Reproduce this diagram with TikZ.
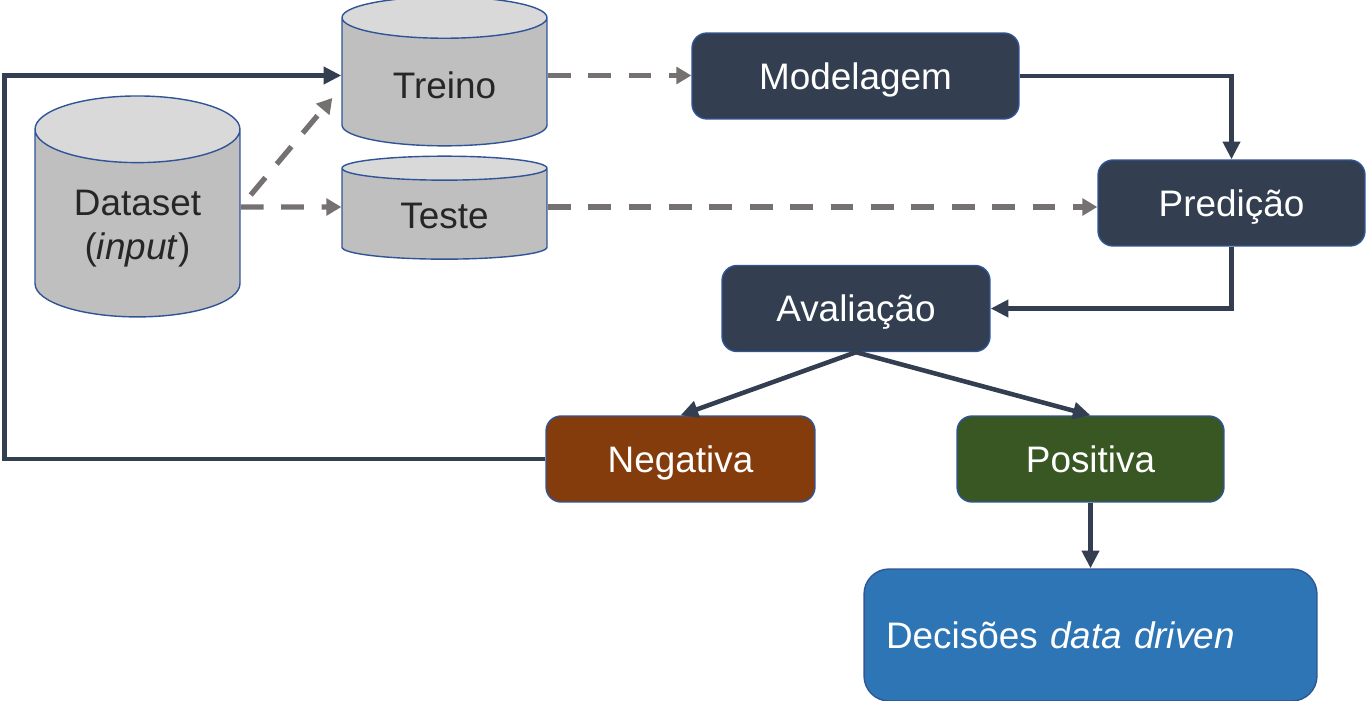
\documentclass[tikz,border=0pt]{standalone}
\usepackage{fontspec}
\setmainfont{Liberation Sans}
\usetikzlibrary{shapes.geometric, arrows.meta, calc, positioning}

\definecolor{navy}{HTML}{333F50}
\definecolor{edgeblue}{HTML}{2F5597}
\definecolor{dashgray}{HTML}{767171}
\definecolor{negbrown}{HTML}{843C0C}
\definecolor{posgreen}{HTML}{385723}
\definecolor{decblue}{HTML}{2E75B6}

\begin{document}
\begin{tikzpicture}
  [
    x=0.02cm, y=-0.02cm,
    txt/.style={font=\fontsize{21}{25}\selectfont},
    db/.style={txt, cylinder, shape border rotate=90, draw=edgeblue, line width=0.8pt,
      cylinder uses custom fill, cylinder body fill=black!25, cylinder end fill=black!15,
      minimum width=4.1cm, align=center, text=black!85},
    box/.style={txt, draw=edgeblue, line width=0.8pt, rounded corners=0.3cm,
      text=white, fill=navy, minimum height=1.72cm, text height=15pt, text depth=0pt},
    flow/.style={draw=navy, line width=2.6pt, -{Triangle[length=10pt,width=9.5pt]}},
    split/.style={draw=dashgray, line width=3pt, dash pattern=on 13pt off 10pt,
      -{Triangle[length=8.5pt,width=9.5pt]}}
  ]
  \useasboundingbox (0,0) rectangle (1366,700);
  % data
  \node[db, minimum height=4.42cm, aspect=0.48] (dataset) at (137.5,229) {Dataset\\(\textit{input})};
  \node[db, minimum height=2.98cm, aspect=0.36] (treino) at (444.5,85.5) {Treino};
  \node[db, minimum height=2.06cm, aspect=0.24] (teste) at (444.5,216) {Teste};
  % pipeline
  \node[box, minimum width=6.54cm] (modelagem) at (855.5,76) {Modelagem};
  \node[box, minimum width=5.34cm] (predicao) at (1231.5,203) {Predição};
  \node[box, minimum width=5.36cm] (avaliacao) at (856,308.5) {Avaliação};
  \node[box, minimum width=5.38cm, fill=negbrown] (negativa) at (680.5,459) {Negativa};
  \node[box, minimum width=5.34cm, fill=posgreen] (positiva) at (1090.5,459) {Positiva};
  \node[box, fill=decblue, rounded corners=0.5cm, minimum height=2.64cm,
    text width=8.18cm, inner xsep=0.44cm, align=left] (decisoes) at (1090.5,635)
    {Decisões \textit{data driven}};
  % ports on the cylinders
  \coordinate (dsout) at ($(dataset.east)+(0,-22)$);
  \coordinate (trin) at ($(treino.west)+(0,-10)$);
  \coordinate (trout) at ($(treino.east)+(0,-10)$);
  \coordinate (tein) at ($(teste.west)+(0,-9)$);
  \coordinate (teout) at ($(teste.east)+(0,-9)$);
  \coordinate (treinoin) at ($(trin)+(-9,22.5)$);
  % split of the dataset
  \draw[split] ($(dsout)+(10,-12)$) -- (treinoin);
  \draw[split] (dsout) -- (tein);
  \draw[split] (trout) -- (trout -| modelagem.west);
  \draw[split] (teout) -- (teout -| predicao.west);
  % flow
  \draw[flow] (modelagem.east) -| (predicao.north);
  \draw[flow] (predicao.south) |- (avaliacao.east);
  \draw[flow] (avaliacao.south) -- (negativa.north);
  \draw[flow] (avaliacao.south) -- (positiva.north);
  \draw[flow] (positiva.south) -- (decisoes.north);
  \draw[flow] (negativa.west) -- ++(-541,0) |- (trin);
\end{tikzpicture}
\end{document}
